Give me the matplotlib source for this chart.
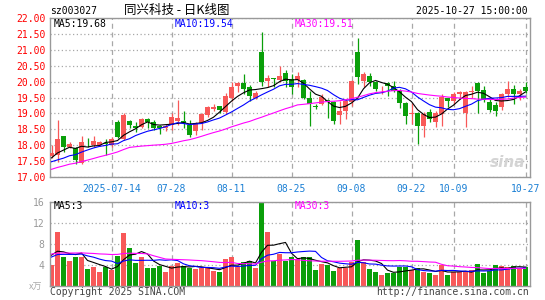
"""Daily K-line chart (Sina style) for sz003027."""

import numpy as np
import pandas as pd

import matplotlib
matplotlib.use("Agg")
import matplotlib.pyplot as plt

# ---- data ----
opens = [17.65, 17.68, 18.28, 17.95, 17.90, 17.45, 18.08, 18.00, 18.00, 18.08,
         18.00, 18.74, 18.18, 18.75, 18.60, 18.58, 18.82, 18.74, 18.60, 18.55,
         18.64, 18.76, 18.76, 18.64, 18.46, 18.69, 18.95, 19.14, 19.22, 19.03,
         19.50, 19.87, 19.95, 19.84, 19.50, 20.93, 20.01, 20.10, 20.05, 20.26,
         20.08, 20.05, 20.05, 19.48, 19.23, 19.29, 19.42, 19.35, 18.96, 19.08,
         19.35, 20.93, 20.03, 20.19, 19.98, 19.69, 19.95, 19.87, 19.69, 19.32,
         18.99, 19.00, 18.61, 19.03, 18.72, 18.98, 19.48, 19.39, 19.62, 19.02,
         19.66, 19.95, 19.74, 19.36, 19.26, 19.19, 19.60, 19.77, 19.60, 19.82]
highs = [18.00, 18.80, 18.30, 18.10, 17.95, 18.28, 18.24, 18.28, 18.12, 18.18,
         18.25, 18.80, 19.02, 18.80, 18.74, 18.85, 18.84, 18.79, 18.62, 18.68,
         19.02, 19.42, 19.07, 18.79, 18.74, 19.00, 19.22, 19.29, 19.24, 19.63,
         19.98, 20.00, 20.24, 19.88, 19.70, 21.56, 20.21, 20.10, 20.50, 20.37,
         20.24, 20.30, 20.07, 19.72, 19.30, 19.61, 19.45, 19.40, 19.40, 19.45,
         20.05, 21.37, 20.30, 20.27, 20.03, 19.87, 19.98, 20.03, 19.77, 19.35,
         19.32, 19.03, 19.03, 19.14, 19.08, 19.61, 19.50, 19.67, 19.72, 19.70,
         19.87, 19.98, 19.85, 19.46, 19.36, 19.64, 20.03, 19.88, 19.77, 19.98]
lows = [17.60, 17.48, 17.78, 17.90, 17.42, 17.40, 17.95, 17.95, 17.98, 17.68,
        17.95, 18.23, 18.15, 18.55, 18.43, 18.53, 18.53, 18.48, 18.35, 18.45,
        18.48, 18.64, 18.53, 18.27, 18.32, 18.48, 18.90, 19.06, 19.00, 18.98,
        19.40, 19.66, 19.61, 19.40, 19.44, 19.87, 19.82, 19.82, 19.98, 19.82,
        19.61, 19.82, 19.45, 18.61, 19.14, 19.27, 18.87, 18.66, 18.66, 18.82,
        19.24, 19.93, 19.82, 19.87, 19.72, 19.61, 19.56, 19.66, 19.17, 18.68,
        18.66, 18.03, 18.26, 18.72, 18.58, 18.61, 19.20, 19.31, 19.50, 18.57,
        19.50, 19.00, 19.36, 19.05, 18.92, 19.10, 19.52, 19.31, 19.43, 19.64]
closes = [17.76, 18.18, 17.95, 18.05, 17.55, 18.10, 18.06, 18.13, 18.10, 18.05,
          18.18, 18.27, 18.95, 18.65, 18.53, 18.81, 18.72, 18.55, 18.55, 18.60,
          18.88, 18.84, 18.69, 18.32, 18.69, 18.98, 19.21, 19.20, 19.12, 19.56,
          19.84, 19.95, 19.77, 19.56, 19.63, 19.98, 20.12, 20.07, 20.19, 20.03,
          19.84, 20.19, 19.50, 19.29, 19.21, 19.50, 19.38, 18.77, 19.06, 19.40,
          20.03, 20.14, 20.24, 20.00, 19.77, 19.71, 19.87, 19.72, 19.32, 18.93,
          19.01, 18.61, 18.98, 18.82, 19.00, 19.50, 19.38, 19.60, 19.66, 19.67,
          19.70, 19.70, 19.43, 19.12, 19.08, 19.62, 19.77, 19.60, 19.69, 19.70]
# volume, in 10k lots
volumes = [3.9, 10.2, 5.4, 4.6, 5.4, 5.4, 3.1, 3.5, 2.6, 3.5,
           2.9, 5.6, 10.0, 7.1, 4.3, 5.4, 3.3, 3.3, 3.7, 2.6,
           3.7, 4.3, 3.7, 3.4, 3.1, 3.3, 3.4, 2.8, 2.5, 5.15,
           5.5, 3.5, 4.5, 4.6, 3.4, 15.7, 10.2, 4.6, 6.0, 4.6,
           5.4, 5.0, 5.4, 5.4, 2.9, 4.05, 3.86, 2.7, 3.4, 3.4,
           4.5, 8.7, 4.5, 3.1, 2.6, 2.1, 2.4, 2.4, 3.5, 3.5,
           2.9, 3.4, 2.6, 2.4, 2.1, 3.86, 1.93, 2.6, 2.6, 2.7,
           2.9, 4.2, 2.4, 2.8, 3.86, 3.67, 3.5, 3.8, 3.1, 3.5]

# sessions before the visible window (only feed the moving averages)
hist_close = [16.40, 16.50, 16.45, 16.60, 16.55, 16.70, 16.60, 16.50, 16.65, 16.70,
              16.60, 16.70, 16.60, 17.90, 18.20, 18.30, 18.10, 18.20, 18.10, 18.10,
              17.60, 17.40, 17.30, 17.20, 17.30, 17.40, 17.50, 17.60, 17.74]
hist_vol = [4.5, 5.0, 4.8, 5.2, 4.6, 5.0, 4.9, 5.3, 4.7, 5.1,
            4.9, 5.2, 5.0, 5.5, 6.0, 5.4, 14.0, 13.0, 12.0, 5.5,
            5.5, 5.0, 4.8, 5.1, 5.0, 6.5, 6.0, 6.3, 6.3]

tick_idx = [10, 20, 30, 40, 50, 60, 67, 79]
tick_lbl = ["2025-07-14", "07-28", "08-11", "08-25", "09-08", "09-22", "10-09", "10-27"]

RED = "#f85858"
GREEN = "#0a9f0a"
MA_COLORS = {5: "black", 10: "#0000ff", 30: "#ff00ff"}
GRID = "#a8a8a8"
MONO = "DejaVu Sans Mono"
CJK = ["Noto Sans CJK SC", "DejaVu Sans"]

W, H = 545, 300


def moving_averages(hist, values):
    s = pd.Series(list(hist) + list(values))
    return {n: s.rolling(n).mean().to_numpy()[len(hist):] for n in (5, 10, 30)}


o, h, l, c = map(np.array, (opens, highs, lows, closes))
v = np.array(volumes)
x = np.arange(len(c))
up = c >= o
cols = np.where(up, RED, GREEN)

ma_p = moving_averages(hist_close, closes)
ma_v = moving_averages(hist_vol, volumes)

fig = plt.figure(figsize=(W / 100, H / 100), dpi=100)
ax = fig.add_axes([50 / W, 1 - 177 / H, 480 / W, 159 / H])
axv = fig.add_axes([50 / W, 1 - 285.5 / H, 480 / W, 83.8 / H])

for a in (ax, axv):
    a.set_xlim(-0.25, len(c) - 0.25)
    for sp in a.spines.values():
        sp.set_color("#999999")
        sp.set_linewidth(1.0)
    a.set_xticks(tick_idx)
    a.xaxis.grid(True, linestyle=(0, (4, 3)), color=GRID, linewidth=0.9)
    a.yaxis.grid(True, linestyle=(0, (1, 2)), color=GRID, linewidth=0.9)
    a.set_axisbelow(True)
    a.tick_params(length=0)

# 1. price panel
ax.vlines(x, l, h, color=cols, linewidth=0.9, zorder=2)
body_lo = np.minimum(o, c)
body_h = np.maximum(np.abs(c - o), 0.012)
ax.bar(x, body_h, 0.72, bottom=body_lo, color=cols, linewidth=0, zorder=3)
for n, col in MA_COLORS.items():
    ax.plot(x, ma_p[n], color=col, linewidth=0.8, zorder=4)

ax.set_ylim(17, 22)
ax.set_yticks(np.arange(17, 22.01, 0.5))
ax.set_yticklabels([f"{t:.2f}" for t in np.arange(17, 22.01, 0.5)],
                   color="red", fontsize=7, family=MONO)
ax.tick_params(axis="y", pad=3)
ax.set_xticklabels(tick_lbl, color="#1a7fd4", fontsize=7, family=MONO)
ax.tick_params(axis="x", pad=5)

lbl_x = [0.008, 0.26, 0.51]
for xx, n in zip(lbl_x, (5, 10, 30)):
    ax.text(xx, 0.962, f"MA{n}:{ma_p[n][-1]:.2f}", transform=ax.transAxes,
            color=MA_COLORS[n], fontsize=7, family=MONO, va="center", ha="left")

ax.text(0.99, 0.09, "sina", transform=ax.transAxes, ha="right", va="center",
        fontsize=11, style="italic", weight="bold", color="#d4d4d4", zorder=1)

# 2. volume panel
axv.bar(x, v, 0.82, color=cols, linewidth=0, zorder=2)
for n, col in MA_COLORS.items():
    axv.plot(x, ma_v[n], color=col, linewidth=0.8, zorder=4)
axv.set_ylim(0, 16)
axv.set_yticks([4, 8, 12, 16])
axv.set_yticklabels(["4", "8", "12", "16"], color="#999999", fontsize=7, family=MONO)
axv.tick_params(axis="y", pad=4)
axv.set_xticklabels([])

for xx, n in zip(lbl_x, (5, 10, 30)):
    axv.text(xx, 0.945, f"MA{n}:{int(ma_v[n][-1])}", transform=axv.transAxes,
             color=MA_COLORS[n], fontsize=7, family=MONO, va="center", ha="left")

# 3. header / footer texts
fig.text(50 / W, 1 - 11 / H, "sz003027", fontsize=7, family=MONO, va="center")
fig.text(177 / W, 1 - 10 / H, "同兴科技 - 日K线图", fontsize=9, family=CJK,
         va="center", ha="center")
fig.text(528 / W, 1 - 11 / H, "2025-10-27 15:00:00", fontsize=7, family=MONO,
         va="center", ha="right")
fig.text(36 / W, 1 - 287 / H, "x万", fontsize=6.5, family=CJK, color="#aaaaaa",
         va="center", ha="center", style="italic")
fig.text(50 / W, 1 - 292 / H, "Copyright 2025 SINA.COM", fontsize=7, family=MONO,
         color="#444444", va="center")
fig.text(529 / W, 1 - 292 / H, "http://finance.sina.com.cn", fontsize=7, family=MONO,
         color="#444444", va="center", ha="right")

fig.savefig("out.png", dpi=100)
plt.close(fig)
